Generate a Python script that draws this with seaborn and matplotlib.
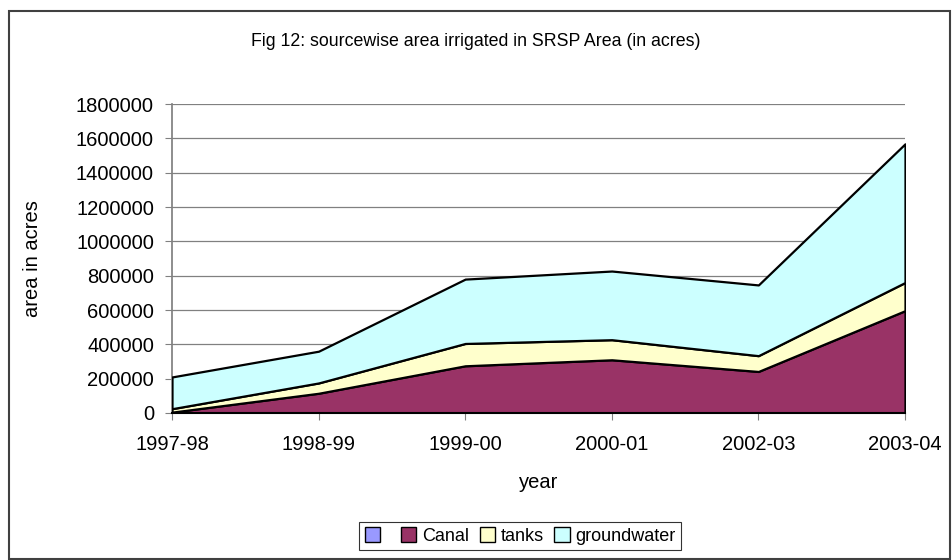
import matplotlib
matplotlib.use("Agg")
import matplotlib.pyplot as plt
from matplotlib.patches import Patch, Rectangle
import seaborn as sns
import numpy as np
import pandas as pd

years = ["1997-98", "1998-99", "1999-00", "2000-01", "2002-03", "2003-04"]
canal = [5000, 115000, 275000, 310000, 242000, 596000]
tanks = [20000, 60000, 130000, 117000, 92000, 164000]
groundwater = [185000, 185000, 375000, 400000, 412000, 808000]
yticks = [0, 200000, 400000, 600000, 800000, 1000000, 1200000, 1400000, 1600000, 1800000]

sns.set_theme(style="white")
plt.rcParams['font.family'] = ['Liberation Sans', 'DejaVu Sans']
plt.rcParams['text.color'] = 'black'

fig = plt.figure(figsize=(9.53, 5.6), dpi=100)
ax = fig.add_axes([172/953, 1 - 413/560, (905-172)/953, (413-104)/560])

x = np.arange(len(years))
colors = ["#993366", "#FFFFCC", "#CCFFFF"]
ax.stackplot(x, canal, tanks, groundwater, colors=colors,
             edgecolor="black", linewidth=1.6, zorder=3)

ax.set_xlim(0, len(years) - 1)
ax.set_ylim(0, 1800000)
ax.set_yticks(yticks)
ax.set_yticklabels([str(v) for v in yticks], fontsize=14.5)
ax.set_xticks(x)
ax.set_xticklabels(years, fontsize=14.5)
ax.yaxis.grid(True, color="#808080", linewidth=0.9, zorder=0)
ax.set_axisbelow(True)
for s in ["top", "right"]:
    ax.spines[s].set_visible(False)
ax.spines["left"].set_color("#808080")
ax.spines["bottom"].set_color("black")
ax.spines["bottom"].set_linewidth(1.5)
ax.spines["bottom"].set_zorder(4)
ax.tick_params(axis="y", direction="out", length=5, width=0.8, color="#808080",
               left=True, pad=8, labelcolor="black")
ax.tick_params(axis="x", direction="out", length=5, width=0.8, color="#808080",
               bottom=True, pad=11, labelcolor="black")
ax.set_ylabel("area in acres", fontsize=14.5, color="black")
ax.set_xlabel("year", fontsize=14.5, color="black")
ax.yaxis.set_label_coords((33 - 172) / (905 - 172), 0.5)
ax.xaxis.set_label_coords(0.5, -(482 - 413) / (413 - 104))
ax.yaxis.label.set_va("center")
ax.xaxis.label.set_va("center")

fig.text(476/953, 1 - 42/560, "Fig 12: sourcewise area irrigated in SRSP Area (in acres)",
         ha="center", va="center", fontsize=12.8, color="black")

handles = [Patch(facecolor="#9999FF", edgecolor="black"),
           Patch(facecolor="#993366", edgecolor="black"),
           Patch(facecolor="#FFFFCC", edgecolor="black"),
           Patch(facecolor="#CCFFFF", edgecolor="black")]
labels = [" ", "Canal", "tanks", "groundwater"]
leg = fig.legend(handles, labels, loc="center", bbox_to_anchor=(520/953, 1 - 536/560),
                 ncol=4, frameon=True, fontsize=13, handlelength=0.85, handleheight=0.85,
                 handletextpad=0.3, columnspacing=0.6, borderpad=0.3, fancybox=False)
leg.get_frame().set_edgecolor("black")
leg.get_frame().set_linewidth(0.8)
for t in leg.get_texts():
    t.set_color("black")

fig.patches.append(Rectangle((9/953, 1 - 559/560), (950-9)/953, (559-11)/560,
                             transform=fig.transFigure, fill=False, edgecolor="#404040",
                             linewidth=1.5))

fig.savefig("out.png", dpi=100)
